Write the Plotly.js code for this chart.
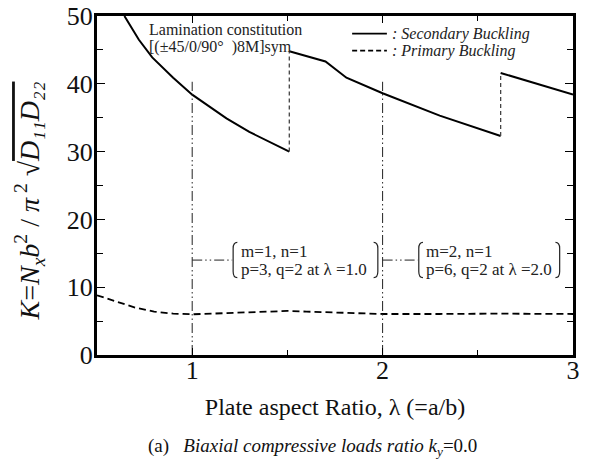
<!DOCTYPE html>
<html>
<head>
<meta charset="utf-8">
<script src="https://cdn.plot.ly/plotly-3.0.1.min.js"></script>
<style>html,body{margin:0;padding:0;background:#fff}</style>
</head>
<body>
<div id="chart" style="width:590px;height:470px"></div>
<script>
// Secondary buckling load, three branches separated by mode jumps
const lamS1 = [0.644, 0.72, 0.79, 0.90, 1.00, 1.18, 1.30, 1.51];
const kS1   = [50.0, 46.5, 43.9, 40.9, 38.4, 34.9, 32.9, 30.0];
const lamS2 = [1.51, 1.70, 1.81, 2.00, 2.30, 2.62];
const kS2   = [44.8, 43.3, 40.9, 38.6, 35.3, 32.3];
const lamS3 = [2.62, 3.00];
const kS3   = [41.6, 38.4];

// Primary buckling load
const lamP = [0.50, 0.60, 0.70, 0.80, 0.90, 1.00, 1.20, 1.40, 1.50, 1.60, 1.80, 2.00, 2.30, 2.60, 3.00];
const kP   = [8.8, 7.9, 7.0, 6.4, 6.1, 6.0, 6.2, 6.45, 6.5, 6.4, 6.2, 6.05, 6.05, 6.1, 6.05];

// Reference aspect ratios with their mode descriptions (two lines each)
const lamMark = [1.0, 2.0];
const kMarkTop = 40.3;
const modeLines = [
  ["m=1, n=1", "p=3, q=2 at λ =1.0"],
  ["m=2, n=1", "p=6, q=2 at λ =2.0"]
];
const labelK = 14.0;
const labelEnd = [1.21, 2.185];      // end of leader line / opening bracket
const labelClose = [1.975, 2.93];   // closing bracket

const legendNames = [": Secondary Buckling", ": Primary Buckling"];
const laminateLines = ["Lamination constitution", "[(±45/0/90°\u00a0\u00a0)8M]sym"];
const yTitle = "<i>K</i>=<i>N<sub>x</sub>b</i><sup>2</sup> / <i>π</i><sup> 2</sup> √<span style=\"text-decoration:overline\"><i>D₁₁D₂₂</i></span>";

const serif = "Liberation Serif";

// Jump lines connect the end of one branch to the start of the next
const jumpX = [], jumpY = [];
[[lamS1, kS1, lamS2, kS2], [lamS2, kS2, lamS3, kS3]].forEach(([xa, ya, xb, yb]) => {
  jumpX.push(xa[xa.length - 1], xb[0], null);
  jumpY.push(ya[ya.length - 1], yb[0], null);
});

const markX = [], markY = [];
lamMark.forEach(l => { markX.push(l, l, null); markY.push(0, kMarkTop, null); });

const dashDot = "10px,3px,1.5px,3px,1.5px,3px";
const solid = {color: "#000", width: 2};
const traces = [
  {x: lamS1, y: kS1, mode: "lines", line: solid, showlegend: false},
  {x: lamS2, y: kS2, mode: "lines", line: solid, showlegend: false},
  {x: lamS3, y: kS3, mode: "lines", line: solid, showlegend: false},
  {x: jumpX, y: jumpY, mode: "lines", line: {color: "#444", width: 1.3, dash: "4px,3px"}, showlegend: false},
  {x: lamP, y: kP, mode: "lines", line: {color: "#000", width: 1.8, dash: "7px,4px"}, showlegend: false},
  {x: markX, y: markY, mode: "lines", line: {color: "#222", width: 1, dash: dashDot}, showlegend: false}
];

function bracket(x, y1, y2, dir) {
  const dx = 0.022 * dir, dy = 0.9;
  return `M ${x + dx},${y2} Q ${x},${y2} ${x},${y2 - dy} L ${x},${y1 + dy} Q ${x},${y1} ${x + dx},${y1}`;
}

const shapes = [];
const annotations = [];
lamMark.forEach((l, i) => {
  shapes.push({type: "line", xref: "x", yref: "y", x0: l, x1: labelEnd[i], y0: labelK, y1: labelK,
               line: {color: "#222", width: 1, dash: dashDot}});
  shapes.push({type: "path", xref: "x", yref: "y", path: bracket(labelEnd[i] + 0.005, labelK - 2.6, labelK + 2.6, 1),
               line: {color: "#222", width: 1.2}});
  shapes.push({type: "path", xref: "x", yref: "y", path: bracket(labelClose[i], labelK - 2.6, labelK + 2.6, -1),
               line: {color: "#222", width: 1.2}});
  modeLines[i].forEach((t, j) => {
    annotations.push({x: labelEnd[i] + 0.035, y: labelK + (j === 0 ? 1.33 : -1.33), xref: "x", yref: "y", text: t,
                      showarrow: false, xanchor: "left", yanchor: "middle", align: "left",
                      font: {family: serif, size: 17, color: "#222"}});
  });
});

// Legend drawn as line samples with italic labels
const legY = [0.948, 0.898];
const legDash = ["solid", "5px,3px"];
legendNames.forEach((name, i) => {
  shapes.push({type: "line", xref: "paper", yref: "paper", x0: 0.536, x1: 0.609, y0: legY[i], y1: legY[i],
               line: {color: "#000", width: 1.8, dash: legDash[i]}});
  annotations.push({x: 0.616, y: legY[i], xref: "paper", yref: "paper", text: "<i>" + name + "</i>",
                    showarrow: false, xanchor: "left", yanchor: "middle",
                    font: {family: serif, size: 16, color: "#222"}});
});

const lamY = [48.0, 45.4];
laminateLines.forEach((t, j) => {
  annotations.push({x: 0.762, y: lamY[j], xref: "x", yref: "y", text: t, showarrow: false,
                    xanchor: "left", yanchor: "middle", align: "left",
                    font: {family: serif, size: 16, color: "#222"}});
});

// Vertical axis title, placed as a rotated note left of the tick labels
annotations.push({x: -0.142, y: 0.454, xref: "paper", yref: "paper", text: yTitle, textangle: -90,
                  showarrow: false, xanchor: "center", yanchor: "middle",
                  font: {family: serif, size: 28, color: "#111"}});

annotations.push({x: 0.452, y: -0.272, xref: "paper", yref: "paper",
                  text: "(a)\u00a0\u00a0 <i>Biaxial compressive loads ratio k<sub>y</sub></i>=0.0",
                  showarrow: false, xanchor: "center", yanchor: "middle",
                  font: {family: serif, size: 19, color: "#111"}});

const layout = {
  width: 590, height: 470,
  margin: {l: 97, r: 17, t: 16, b: 115},
  paper_bgcolor: "#fff", plot_bgcolor: "#fff",
  font: {family: serif, color: "#111"},
  showlegend: false,
  xaxis: {
    range: [0.5, 3], tickvals: [1, 2, 3], ticktext: ["1", "2", "3"],
    ticks: "inside", ticklen: 7, tickwidth: 1, tickcolor: "#000",
    minor: {tickvals: [1.5, 2.5], ticks: "inside", ticklen: 5, tickwidth: 1, tickcolor: "#000"},
    showline: true, linewidth: 3, linecolor: "#000", mirror: "ticks",
    showgrid: false, zeroline: false, ticklabelstandoff: -10,
    tickfont: {family: serif, size: 26, color: "#111"},
    title: {text: "Plate aspect Ratio, λ (=a/b)", font: {family: serif, size: 24, color: "#111"}, standoff: 14}
  },
  yaxis: {
    range: [0, 50], tickvals: [0, 10, 20, 30, 40, 50],
    ticks: "inside", ticklen: 8, tickwidth: 1, tickcolor: "#000",
    minor: {tickvals: [5, 15, 25, 35, 45], ticks: "inside", ticklen: 6, tickwidth: 1, tickcolor: "#000"},
    showline: true, linewidth: 3, linecolor: "#000", mirror: "ticks",
    showgrid: false, zeroline: false, ticklabelstandoff: -4,
    tickfont: {family: serif, size: 26, color: "#111"}
  },
  shapes: shapes,
  annotations: annotations
};

Plotly.newPlot("chart", traces, layout, {displayModeBar: false, staticPlot: true});
</script>
</body>
</html>
